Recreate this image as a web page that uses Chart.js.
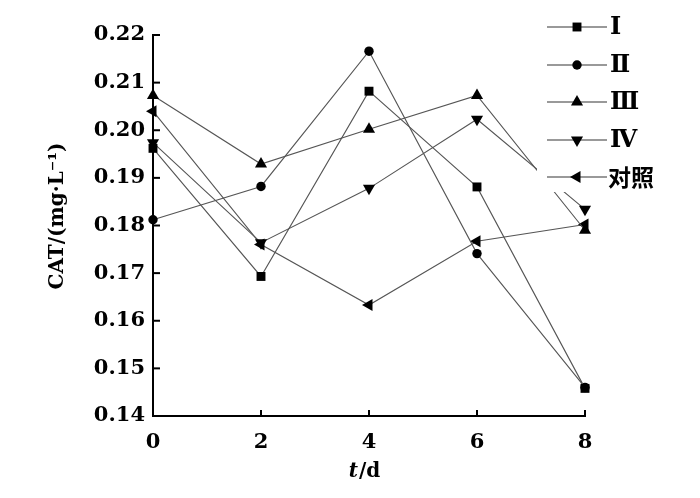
<!DOCTYPE html>
<html><head><meta charset="utf-8">
<script src="https://cdn.jsdelivr.net/npm/chart.js@4.4.0/dist/chart.umd.min.js"></script>
<style>html,body{margin:0;padding:0;background:#fff}#wrap{width:700px;height:498px}</style>
</head><body><div id="wrap"><canvas id="c" width="700" height="498"></canvas></div>
<script>
const categories = [0, 2, 4, 6, 8];
const seriesNames = ['Ⅰ', 'Ⅱ', 'Ⅲ', 'Ⅳ', '对照'];
const seriesI   = [0.1962, 0.1693, 0.2082, 0.1881, 0.1458];
const seriesII  = [0.1812, 0.1882, 0.2166, 0.1741, 0.1460];
const seriesIII = [0.2073, 0.1929, 0.2002, 0.2073, 0.1790];
const seriesIV  = [0.1974, 0.1764, 0.1878, 0.2023, 0.1834];
const seriesCK  = [0.2040, 0.1760, 0.1633, 0.1767, 0.1802];
const yTickLabels = ['0.14','0.15','0.16','0.17','0.18','0.19','0.20','0.21','0.22'];
const xTickLabels = ['0','2','4','6','8'];
const yTitle = 'CAT/(mg·L⁻¹)';

const allSeries = [seriesI, seriesII, seriesIII, seriesIV, seriesCK];
const styles = [
  {ps:'rect', r:6.3, rot:0},
  {ps:'circle', r:4.7, rot:0},
  {ps:'triangle', r:7, rot:0},
  {ps:'triangle', r:7, rot:180},
  {ps:'triangle', r:7, rot:-90}
];
const datasets = allSeries.map((s,i)=>({
  label: seriesNames[i],
  data: s.map((v,j)=>({x:categories[j], y:v})),
  borderColor:'#555', borderWidth:1.1,
  pointStyle: styles[i].ps, pointRadius: styles[i].r, pointRotation: styles[i].rot,
  pointBackgroundColor:'#000', pointBorderColor:'#000', pointBorderWidth:0,
  pointHoverRadius: styles[i].r,
  clip:false, tension:0, fill:false
}));

const serif = '"DejaVu Serif", "Liberation Serif", serif';

const deco = {
  id:'deco',
  afterDatasetsDraw(chart){
    const ctx = chart.ctx, xs = chart.scales.x, ys = chart.scales.y;
    ctx.save();
    // inward ticks
    ctx.strokeStyle='#000'; ctx.lineWidth=2;
    ys.ticks.forEach(t=>{ const y=ys.getPixelForValue(t.value);
      ctx.beginPath(); ctx.moveTo(xs.left, y); ctx.lineTo(xs.left+7, y); ctx.stroke(); });
    xs.ticks.forEach(t=>{ const x=xs.getPixelForValue(t.value);
      ctx.beginPath(); ctx.moveTo(x, ys.bottom); ctx.lineTo(x, ys.bottom-6); ctx.stroke(); });
    // legend
    ctx.fillStyle='#fff'; ctx.fillRect(537,0,163,192);
    const rows=[27,65,102,140,177];
    seriesNames.forEach((n,i)=>{
      const y=rows[i];
      ctx.strokeStyle='#999'; ctx.lineWidth=2;
      ctx.beginPath(); ctx.moveTo(547,y); ctx.lineTo(607,y); ctx.stroke();
      ctx.fillStyle='#000'; ctx.strokeStyle='#000';
      Chart.helpers.drawPoint(ctx,{pointStyle:styles[i].ps, radius:styles[i].r, rotation:styles[i].rot, borderWidth:0}, 577, y);
      ctx.fillStyle='#000';
      ctx.textBaseline='middle'; ctx.textAlign='left';
      if (i===4) { ctx.font='bold 23px "Noto Sans CJK SC"'; ctx.fillText(n, 608, y); }
      else { ctx.font='bold 24px "Liberation Serif", "DejaVu Serif", serif'; ctx.fillText(n, 610, y+1); }
    });
    // x title
    ctx.fillStyle='#000'; ctx.textBaseline='middle'; ctx.textAlign='left';
    ctx.font='italic bold 20px ' + serif;
    const w1 = ctx.measureText('t').width;
    ctx.font='bold 20px ' + serif;
    const w2 = ctx.measureText('/d').width;
    const x0 = 364 - (w1+w2)/2;
    ctx.font='italic bold 20px ' + serif; ctx.fillText('t', x0, 472);
    ctx.font='bold 20px ' + serif; ctx.fillText('/d', x0+w1+1, 472);
    // y title
    ctx.translate(58, 216); ctx.rotate(-Math.PI/2);
    ctx.textAlign='center'; ctx.font='bold 20px ' + serif;
    ctx.fillText(yTitle, 0, 0);
    ctx.restore();
  }
};

new Chart(document.getElementById('c'), {
  type:'line',
  data:{datasets},
  options:{
    responsive:false, animation:false, devicePixelRatio:1,
    layout:{padding:{top:35,right:115,left:0,bottom:0}},
    plugins:{legend:{display:false}, tooltip:{enabled:false}},
    scales:{
      x:{type:'linear', min:0, max:8,
        afterFit(s){ s.height=82; },
        ticks:{stepSize:2, padding:14, color:'#000', font:{family:serif, size:21, weight:'bold'},
          callback:(v)=>{ const i=categories.indexOf(v); return i>=0?xTickLabels[i]:''; }},
        grid:{display:false, drawTicks:false},
        border:{display:true, color:'#000', width:2}},
      y:{type:'linear', min:0.14, max:0.22,
        afterFit(s){ s.width=153; },
        ticks:{stepSize:0.01, padding:8, color:'#000', font:{family:serif, size:21, weight:'bold'},
          callback:(v)=>{ const i=Math.round((v-0.14)*100); return yTickLabels[i]; }},
        grid:{display:false, drawTicks:false},
        border:{display:true, color:'#000', width:2}}
    }
  },
  plugins:[deco]
});
</script></body></html>
